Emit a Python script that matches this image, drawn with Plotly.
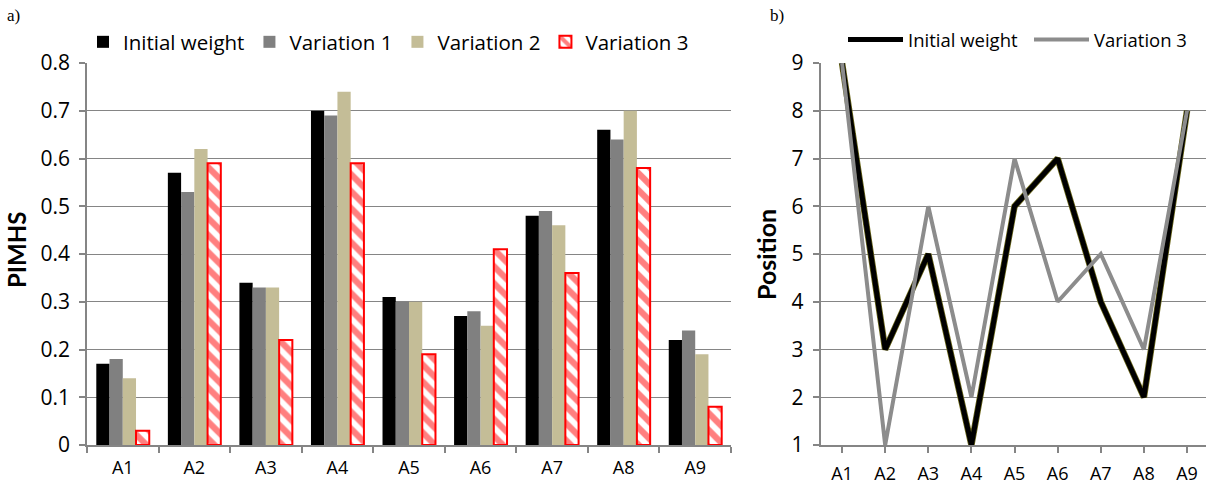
import plotly.graph_objects as go

categories = ["A1", "A2", "A3", "A4", "A5", "A6", "A7", "A8", "A9"]

# Panel a) PIMHS values
initial_weight = [0.17, 0.57, 0.34, 0.70, 0.31, 0.27, 0.48, 0.66, 0.22]
variation_1 = [0.18, 0.53, 0.33, 0.69, 0.30, 0.28, 0.49, 0.64, 0.24]
variation_2 = [0.14, 0.62, 0.33, 0.74, 0.30, 0.25, 0.46, 0.70, 0.19]
variation_3 = [0.03, 0.59, 0.22, 0.59, 0.19, 0.41, 0.36, 0.58, 0.08]

# Panel b) positions
pos_initial = [9, 3, 5, 1, 6, 7, 4, 2, 8]
pos_variation_3 = [9, 1, 6, 2, 7, 4, 5, 3, 8]

W, H = 1206, 484
FONT = "Open Sans"
TFONT = "Lato"
GRID = "#858585"

def px_x(v):
    return v / W

def px_y(v):
    return (H - v) / H

fig = go.Figure()

fig.add_trace(go.Bar(x=categories, y=initial_weight, name="Initial weight",
                     marker=dict(color="#000000", line=dict(width=0)),
                     xaxis="x", yaxis="y", legend="legend"))
fig.add_trace(go.Bar(x=categories, y=variation_1, name="Variation 1",
                     marker=dict(color="#808080", line=dict(width=0)),
                     xaxis="x", yaxis="y", legend="legend"))
fig.add_trace(go.Bar(x=categories, y=variation_2, name="Variation 2",
                     marker=dict(color="#C4BD97", line=dict(width=0)),
                     xaxis="x", yaxis="y", legend="legend"))
fig.add_trace(go.Bar(x=categories, y=variation_3, name="Variation 3",
                     marker=dict(color="#FFFFFF",
                                 line=dict(width=2, color="#FF0000"),
                                 pattern=dict(shape="\\", fgcolor="#FF0000",
                                              bgcolor="#FFFFFF", size=12,
                                              solidity=0.52)),
                     xaxis="x", yaxis="y", legend="legend"))

# olive halo under the black line
fig.add_trace(go.Scatter(x=categories, y=pos_initial, mode="lines",
                         line=dict(color="#6E6A1E", width=6.5),
                         showlegend=False, hoverinfo="skip",
                         xaxis="x2", yaxis="y2"))
fig.add_trace(go.Scatter(x=categories, y=pos_initial, mode="lines",
                         name="Initial weight",
                         line=dict(color="#000000", width=5),
                         xaxis="x2", yaxis="y2", legend="legend2"))
fig.add_trace(go.Scatter(x=categories, y=pos_variation_3, mode="lines",
                         name="Variation 3",
                         line=dict(color="#8C8C8C", width=4),
                         xaxis="x2", yaxis="y2", legend="legend2"))

ydom = [px_y(445), px_y(63)]
ytickfont = dict(family=FONT, size=21, color="#000000")
xtickfont = dict(family=FONT, size=18, color="#000000")

common_axis = dict(automargin=False, fixedrange=True)

fig.update_layout(
    width=W, height=H,
    margin=dict(l=0, r=0, t=0, b=0, autoexpand=False),
    paper_bgcolor="white", plot_bgcolor="white",
    barmode="group", bargap=0.26, bargroupgap=0,
    font=dict(family=FONT, size=18, color="#000000"),
    xaxis=dict(domain=[px_x(87), px_x(731)], type="category",
               tickson="boundaries", ticks="outside", ticklen=6,
               tickcolor=GRID, tickwidth=1.5, showline=True,
               linecolor=GRID, linewidth=1.5, showgrid=False,
               tickfont=xtickfont, ticklabelstandoff=6,
               anchor="y", **common_axis),
    yaxis=dict(domain=ydom, range=[0, 0.8], dtick=0.1, tick0=0,
               ticks="outside", ticklen=6, tickcolor=GRID, tickwidth=1.5,
               showline=True, linecolor=GRID, linewidth=1.5,
               showgrid=True, gridcolor=GRID, gridwidth=1.3,
               zeroline=False, tickfont=ytickfont, ticklabelstandoff=5,
               anchor="x", **common_axis),
    xaxis2=dict(domain=[px_x(820.5), 1.0], type="category",
                range=[-0.5, 8.44], ticks="outside", ticklen=6,
                tickcolor=GRID, tickwidth=1.5, showline=True,
                linecolor=GRID, linewidth=1.5, showgrid=False,
                tickfont=xtickfont, ticklabelstandoff=6, anchor="y2",
                **common_axis),
    yaxis2=dict(domain=ydom, range=[1, 9], dtick=1, tick0=1,
                ticks="outside", ticklen=6, tickcolor=GRID, tickwidth=1.5,
                showline=True, linecolor=GRID, linewidth=1.5,
                showgrid=True, gridcolor=GRID, gridwidth=1.3,
                zeroline=False, tickfont=ytickfont, ticklabelstandoff=5,
                anchor="x2", **common_axis),
    legend=dict(orientation="h", x=px_x(83), xanchor="left",
                y=px_y(42), yanchor="middle",
                font=dict(family=FONT, size=20.5), itemwidth=30,
                bgcolor="rgba(0,0,0,0)", traceorder="normal"),
    legend2=dict(orientation="h", x=px_x(843), xanchor="left",
                 y=px_y(40), yanchor="middle",
                 font=dict(family=FONT, size=18.5), itemwidth=55,
                 entrywidth=116, entrywidthmode="pixels",
                 bgcolor="rgba(0,0,0,0)", traceorder="normal"),
    showlegend=True,
    annotations=[
        dict(text="<b>PIMHS</b>", x=px_x(17), y=px_y(250), xref="paper",
             yref="paper", textangle=-90, showarrow=False,
             font=dict(family=TFONT, size=24), xanchor="center",
             yanchor="middle"),
        dict(text="<b>Position</b>", x=px_x(766), y=px_y(255), xref="paper",
             yref="paper", textangle=-90, showarrow=False,
             font=dict(family=TFONT, size=25), xanchor="center",
             yanchor="middle"),
        dict(text="a)", x=px_x(5), y=px_y(4), xref="paper", yref="paper",
             showarrow=False, xanchor="left", yanchor="top",
             font=dict(family="Liberation Serif", size=17)),
        dict(text="b)", x=px_x(768), y=px_y(4), xref="paper", yref="paper",
             showarrow=False, xanchor="left", yanchor="top",
             font=dict(family="Liberation Serif", size=17)),
    ],
)

fig.write_html("out.html", config={"displayModeBar": False},
               post_script="document.body.style.margin='0';")
